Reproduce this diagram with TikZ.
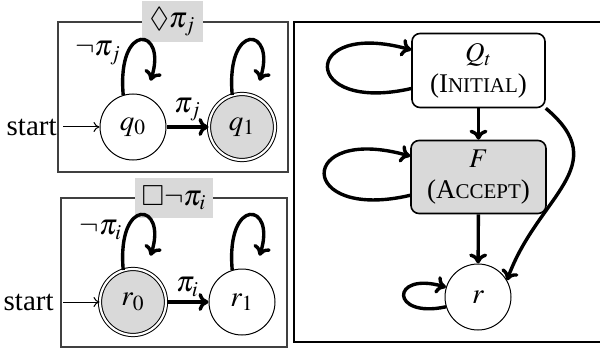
\documentclass[tikz,border=0pt]{standalone}
\usepackage{amssymb}
\usepackage{mathptmx}
\usepackage{fontspec}
\setmainfont{Liberation Serif}
\usetikzlibrary{arrows.meta,calc}
\newcommand{\fsc}[2]{#1{\fontsize{10.5}{12}\selectfont #2}}
\begin{document}
\begin{tikzpicture}[x=0.5pt,y=0.5pt,
  every node/.style={font=\fontsize{14.5}{17}\selectfont},
  st/.style={circle,draw,line width=0.5pt,minimum size=33pt,inner sep=0pt},
  acc/.style={st,fill=black!15,double,double distance=1.1pt},
  frame/.style={draw=black!75,line width=0.6pt,inner sep=0pt},
  tag/.style={fill=black!15,inner sep=0pt},
  blk/.style={draw,line width=0.8pt,rounded corners=4pt,inner sep=0pt,
    minimum width=66.5pt,minimum height=37pt,align=center,
    font=\fontsize{13.5}{15.5}\selectfont},
  tr/.style={line width=1.7pt,-{To[length=5pt,width=9pt]}},
  lp/.style={tr,shorten >=8pt},
  thinarr/.style={line width=0.5pt,-{To[length=3pt,width=5pt]}}]
\useasboundingbox (0,0) rectangle (600,354);
% frames
\node[frame,minimum width=115pt,minimum height=75pt] (boxA) at (173,257) {};
\node[frame,minimum width=113pt,minimum height=74.5pt] (boxB) at (174,81.5) {};
\node[frame,draw=black,minimum width=154pt,minimum height=160pt] (boxR) at (448,172) {};
\node[tag,minimum width=30.5pt,minimum height=20.5pt] (labA) at (172.5,332.5) {$\Diamond\pi_j$};
\node[tag,minimum width=39pt,minimum height=20pt] (labB) at (174,156) {$\Box\neg\pi_i$};
% top automaton
\node[st] (q0) at (133,227) {$q_0$};
\node[acc] (q1) at (242,227) {$q_1$};
\node[anchor=east,inner sep=0pt] (s1) at (57,227) {start};
\coordinate (s1e) at (63,227);
\draw[thinarr] (s1e) -- (q0.west);
\draw[tr] (q0) -- (q1) node[midway,above=1pt,inner sep=1pt] (pj) {$\pi_j$};
\draw[lp] (q0.107) .. controls +(95:75) and +(72:72) .. (q0.68);
\draw[lp] (q1.107) .. controls +(95:75) and +(72:72) .. (q1.68);
\node (nj) at (98,301) {$\neg\pi_j$};
% bottom automaton
\node[acc] (r0) at (133,52) {$r_0$};
\node[st] (r1) at (242,52) {$r_1$};
\node[anchor=east,inner sep=0pt] (s2) at (54,52) {start};
\coordinate (s2e) at (63,52);
\draw[thinarr] (s2e) -- (r0.west);
\draw[tr] (r0) -- (r1) node[midway,above=1pt,inner sep=1pt] (pi) {$\pi_i$};
\draw[lp] (r0.107) .. controls +(95:75) and +(72:72) .. (r0.68);
\draw[lp] (r1.107) .. controls +(95:75) and +(72:72) .. (r1.68);
\node (ni) at (101,124) {$\neg\pi_i$};
% right automaton
\node[blk] (Qt) at (478.5,283.5) {$Q_t$\\(\fsc{I}{NITIAL})};
\node[blk,fill=black!15,minimum width=67.5pt,minimum height=36.5pt] (F) at (478.5,177) {$F$\\(\fsc{A}{CCEPT})};
\node[st] (r) at (478,57) {$r$};
\draw[tr] (Qt) -- (F);
\draw[tr] (F) -- (r);
\draw[tr] (Qt.south east) .. controls +(-40:90) and +(70:90) .. (r.30);
\draw[tr] (Qt.195) .. controls (300,240) and (300,335) .. (Qt.163);
\draw[tr] (F.195) .. controls (296,132) and (296,230) .. (F.163);
\draw[tr] (r.197) .. controls (390,35) and (390,83) .. (r.163);
\end{tikzpicture}
\end{document}
